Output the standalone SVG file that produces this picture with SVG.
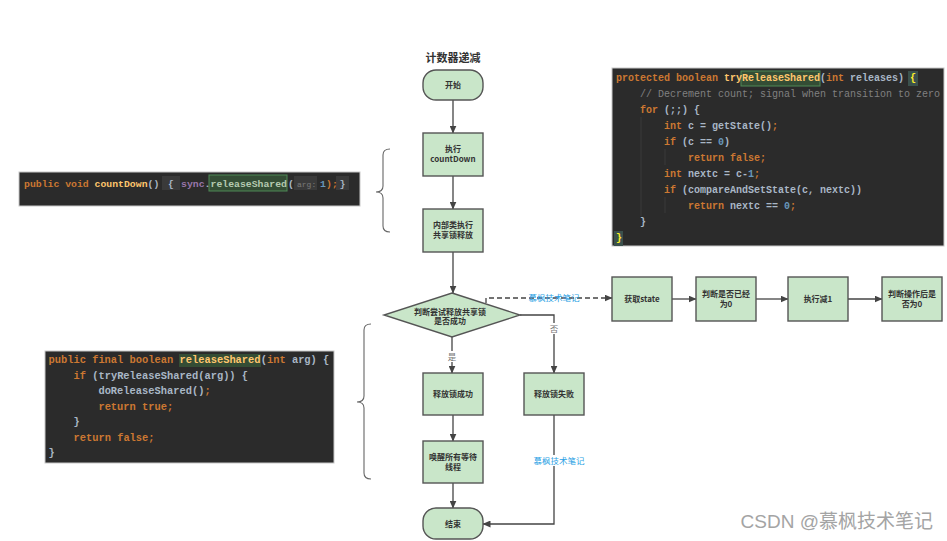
<svg xmlns="http://www.w3.org/2000/svg" width="947" height="541" viewBox="0 0 947 541">
<style>
.node{fill:#c9e6c9;stroke:#555;stroke-width:1.4}
.nt{font-family:"Noto Sans CJK SC","Liberation Sans",sans-serif;font-size:8px;font-weight:bold;fill:#333;text-anchor:middle}
.edge{fill:none;stroke:#444;stroke-width:1.3}
.dash{stroke-dasharray:5,3}
.lbl{font-family:"Noto Sans CJK SC",sans-serif;font-size:8.5px;fill:#777;text-anchor:middle}
.blue{font-family:"Noto Sans CJK SC",sans-serif;font-size:8.5px;fill:#2a9fe4;text-anchor:middle}
.code{fill:#2b2b2b;stroke:#c8c8c8;stroke-width:1}
.mono{font-family:"Liberation Mono","DejaVu Sans Mono",monospace;font-weight:bold;fill:#a9b7c6}
.k{fill:#cc7832}.f{fill:#ffc66d}.n{fill:#6897bb}.c{fill:#808080}.p{fill:#9876aa}
.brace{fill:none;stroke:#666;stroke-width:1.1}
</style>
<defs>
<marker id="ah" markerWidth="8" markerHeight="7" refX="7.5" refY="3.5" orient="auto" markerUnits="userSpaceOnUse">
<path d="M0,0 L8,3.5 L0,7 z" fill="#444"/>
</marker>
</defs>

<text x="453" y="62" font-family="Noto Sans CJK SC,sans-serif" font-size="11" font-weight="bold" fill="#333" text-anchor="middle">计数器递减</text>

<!-- code block 1 -->
<g id="code-countdown">
<rect class="code" x="19" y="172" width="341" height="34"/>
<rect x="162" y="176" width="18" height="14" fill="#3a3a3a"/>
<rect x="209" y="175" width="78" height="16" fill="#344d35" stroke="#4f8a57" stroke-width="1"/>
<rect x="294" y="176" width="23" height="14" fill="#3a3a3a"/>
<rect x="336" y="176" width="13" height="14" fill="#3a3a3a"/>
<text class="mono" font-size="9.8" y="186.5"><tspan x="24" class="k">public</tspan><tspan x="65.2" class="k">void</tspan><tspan x="94.6" class="f">countDown</tspan><tspan x="147.5">()</tspan><tspan x="168">{</tspan><tspan x="181" class="p">sync</tspan><tspan x="204.5">.</tspan><tspan x="210.5" fill="#b5c9b0">releaseShared</tspan><tspan x="288">(</tspan><tspan x="297" font-size="8" font-weight="normal" fill="#7a7a7a">arg:</tspan><tspan x="320" class="n">1</tspan><tspan x="326" class="k">);</tspan><tspan x="339.5">}</tspan></text>
</g>

<!-- code block 2 -->
<g id="code-tryrelease">
<rect class="code" x="612" y="68" width="332" height="178"/>
<line x1="641" y1="117" x2="641" y2="216" stroke="#3a3a3a"/>
<line x1="665" y1="149" x2="665" y2="165" stroke="#3a3a3a"/>
<line x1="665" y1="197" x2="665" y2="213" stroke="#3a3a3a"/>
<rect x="741" y="71" width="79" height="15" fill="#344d35" stroke="#4f8a57" stroke-width="1"/>
<rect x="908" y="71" width="10" height="15" fill="#3b514d"/>
<rect x="614" y="231" width="9" height="15" fill="#3b514d"/>
<text class="mono" font-size="10">
<tspan y="81" x="616" class="k">protected</tspan><tspan y="81" x="676" class="k">boolean</tspan><tspan y="81" x="724" class="f">tryReleaseShared</tspan><tspan y="81" x="820">(</tspan><tspan y="81" x="826" class="k">int</tspan><tspan y="81" x="850">releases)</tspan><tspan y="81" x="910" fill="#ffef28">{</tspan>
<tspan y="97" x="640" class="c" font-weight="normal">// Decrement count; signal when transition to zero</tspan>
<tspan y="113" x="640" class="k">for</tspan><tspan y="113" x="664">(;;) {</tspan>
<tspan y="129" x="664" class="k">int</tspan><tspan y="129" x="688">c = getState()</tspan><tspan y="129" x="772" class="k">;</tspan>
<tspan y="145" x="664" class="k">if</tspan><tspan y="145" x="682">(c ==</tspan><tspan y="145" x="718" class="n">0</tspan><tspan y="145" x="724">)</tspan>
<tspan y="161" x="688" class="k">return false;</tspan>
<tspan y="177" x="664" class="k">int</tspan><tspan y="177" x="688">nextc = c-</tspan><tspan y="177" x="748" class="n">1</tspan><tspan y="177" x="754" class="k">;</tspan>
<tspan y="193" x="664" class="k">if</tspan><tspan y="193" x="682">(compareAndSetState(c, nextc))</tspan>
<tspan y="209" x="688" class="k">return</tspan><tspan y="209" x="730">nextc ==</tspan><tspan y="209" x="784" class="n">0</tspan><tspan y="209" x="790" class="k">;</tspan>
<tspan y="225" x="640">}</tspan>
<tspan y="241" x="616" fill="#ffef28">}</tspan>
</text>
</g>

<!-- code block 3 -->
<g id="code-releaseshared">
<rect class="code" x="45" y="351" width="289" height="112"/>
<rect x="179" y="354" width="82" height="13" fill="#344d35"/>
<text class="mono" font-size="10.4">
<tspan y="363" x="48.5" class="k">public final boolean</tspan><tspan y="363" x="179.5" class="f">releaseShared</tspan><tspan y="363" x="260.7">(</tspan><tspan y="363" x="267" class="k">int</tspan><tspan y="363" x="291.9">arg) {</tspan>
<tspan y="378.5" x="73.5" class="k">if</tspan><tspan y="378.5" x="92.2">(tryReleaseShared(arg)) {</tspan>
<tspan y="394" x="98.4">doReleaseShared()</tspan><tspan y="394" x="204.5" class="k">;</tspan>
<tspan y="409.5" x="98.4" class="k">return true;</tspan>
<tspan y="425" x="73.5">}</tspan>
<tspan y="440.5" x="73.5" class="k">return false;</tspan>
<tspan y="456" x="48.5">}</tspan>
</text>
</g>

<!-- braces -->
<g id="braces">
<path class="brace" d="M390,149 Q383,149 383,155 L383,186 Q383,192 376,192 Q383,192 383,198 L383,226 Q383,232 390,232"/>
<path class="brace" d="M371,324 Q364,324 364,330 L364,396 Q364,402 357,402 Q364,402 364,408 L364,473 Q364,479 371,479"/>
</g>

<!-- connectors -->
<g id="connectors">
<path class="edge" d="M453,100 L453,133" marker-end="url(#ah)"/>
<path class="edge" d="M453,176 L453,209" marker-end="url(#ah)"/>
<path class="edge" d="M453,252 L453,293" marker-end="url(#ah)"/>
<path class="edge" d="M452,337 L452,373" marker-end="url(#ah)"/>
<path class="edge" d="M520,315 L554,315 L554,373" marker-end="url(#ah)"/>
<path class="edge" d="M453,415 L453,441" marker-end="url(#ah)"/>
<path class="edge" d="M453,483 L453,508" marker-end="url(#ah)"/>
<path class="edge" d="M554,415 L554,524 L483,524" marker-end="url(#ah)"/>
<path class="edge dash" d="M486,303 L486,298 L612,298" marker-end="url(#ah)"/>
<path class="edge" d="M672,299 L696,299" marker-end="url(#ah)"/>
<path class="edge" d="M756,299 L788,299" marker-end="url(#ah)"/>
<path class="edge" d="M848,299 L882,299" marker-end="url(#ah)"/>
<rect x="447" y="351" width="10" height="11" fill="#fff"/>
<text class="lbl" x="452" y="360">是</text>
<rect x="549" y="323" width="10" height="11" fill="#fff"/>
<text class="lbl" x="554" y="332">否</text>
<text class="blue" x="554" y="301">慕枫技术笔记</text>
<rect x="532" y="455" width="54" height="11" fill="#fff"/>
<text class="blue" x="559" y="464">慕枫技术笔记</text>
</g>

<!-- nodes -->
<g id="start"><rect class="node" x="423" y="70" width="60" height="30" rx="13"/><text class="nt" x="453" y="88">开始</text></g>
<g id="exec-countdown"><rect class="node" x="423" y="133" width="60" height="43"/><text class="nt" x="453" y="152">执行</text><text class="nt" x="453" y="162">countDown</text></g>
<g id="inner-release"><rect class="node" x="423" y="209" width="60" height="43"/><text class="nt" x="453" y="228">内部类执行</text><text class="nt" x="453" y="238">共享锁释放</text></g>
<g id="decision"><polygon class="node" points="452,293 520,315 452,337 384,315"/><text class="nt" x="450" y="314.5">判断尝试释放共享锁</text><text class="nt" x="450" y="324">是否成功</text></g>
<g id="release-ok"><rect class="node" x="423" y="373" width="60" height="42"/><text class="nt" x="453" y="397">释放锁成功</text></g>
<g id="release-fail"><rect class="node" x="524" y="373" width="60" height="42"/><text class="nt" x="554" y="397">释放锁失败</text></g>
<g id="wake"><rect class="node" x="423" y="441" width="60" height="42"/><text class="nt" x="453" y="460">唤醒所有等待</text><text class="nt" x="453" y="470">线程</text></g>
<g id="end"><rect class="node" x="423" y="508" width="60" height="31" rx="13"/><text class="nt" x="453" y="526.5">结束</text></g>
<g id="get-state"><rect class="node" x="612" y="277" width="60" height="44"/><text class="nt" x="642" y="302">获取state</text></g>
<g id="check-zero"><rect class="node" x="696" y="277" width="60" height="44"/><text class="nt" x="726" y="297">判断是否已经</text><text class="nt" x="726" y="307">为0</text></g>
<g id="dec-one"><rect class="node" x="788" y="277" width="60" height="44"/><text class="nt" x="818" y="302">执行减1</text></g>
<g id="check-after"><rect class="node" x="882" y="277" width="60" height="44"/><text class="nt" x="912" y="297">判断操作后是</text><text class="nt" x="912" y="307">否为0</text></g>

<text x="933" y="528" font-family="Liberation Sans,Noto Sans CJK SC,sans-serif" font-size="19" fill="#a4a4a4" text-anchor="end">CSDN @慕枫技术笔记</text>
</svg>
